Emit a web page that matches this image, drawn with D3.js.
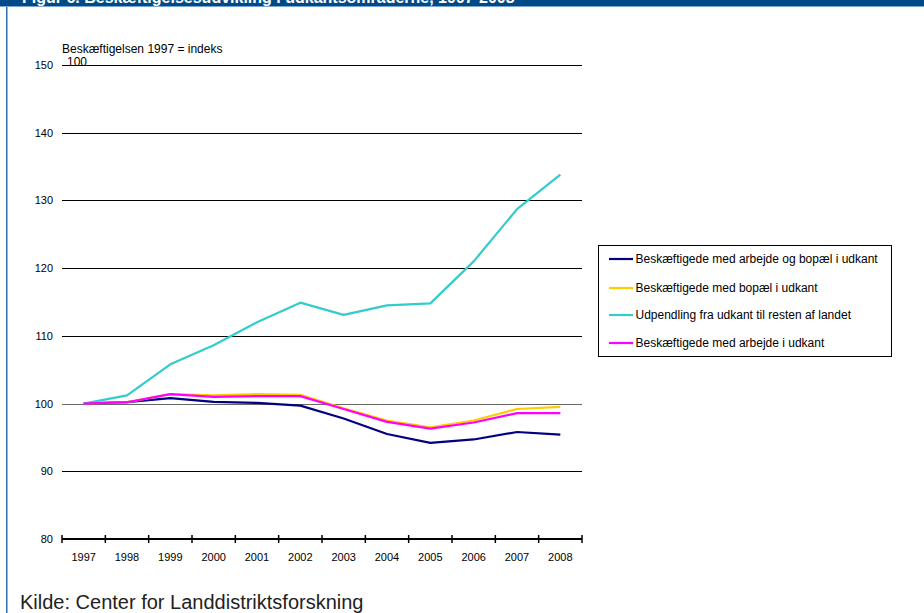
<!DOCTYPE html>
<html><head><meta charset="utf-8">
<script src="https://cdn.jsdelivr.net/npm/d3@7"></script>
<style>body{margin:0;background:#fff;}svg{display:block;font-family:Arial,"Liberation Sans",sans-serif;}</style>
</head><body><svg id="c" width="924" height="613"></svg>
<script>
const years = ["1997","1998","1999","2000","2001","2002","2003","2004","2005","2006","2007","2008"];
const seriesNames = ["Beskæftigede med arbejde og bopæl i udkant","Beskæftigede med bopæl i udkant","Udpendling fra udkant til resten af landet","Beskæftigede med arbejde i udkant"];
const arbejdeOgBopael = [100,100.2,100.8,100.25,100.1,99.7,97.8,95.5,94.2,94.7,95.8,95.4];
const bopael = [100,100.2,101.4,101.2,101.4,101.3,99.3,97.5,96.5,97.5,99.2,99.5];
const udpendling = [100,101.2,105.8,108.6,112.0,114.9,113.1,114.5,114.8,121.0,128.7,133.8];
const arbejde = [100,100.2,101.4,101.0,101.1,101.1,99.2,97.3,96.3,97.2,98.6,98.6];
const yTicks = [80,90,100,110,120,130,140,150];
const colors = ["#000080","#FFCC00","#33CCCC","#FF00FF"];

const svg = d3.select("#c");
// banner
svg.append("rect").attr("x",0).attr("y",0).attr("width",924).attr("height",6).attr("fill","#004b87");
svg.append("rect").attr("x",0).attr("y",6).attr("width",924).attr("height",1).attr("fill","#7aa6cf");
svg.append("text").attr("x",22).attr("y",3).attr("fill","#fff").attr("font-weight","bold").attr("font-size",16)
  .text("Figur 6. Beskæftigelsesudvikling i udkantsområderne, 1997-2008");
svg.append("rect").attr("x",6).attr("y",7).attr("width",1.5).attr("height",606).attr("fill","#2e6fb0");

const x = d3.scaleBand().domain(years).range([62,582]);
const y = d3.scaleLinear().domain([80,150]).range([539,65]);

// gridlines
svg.append("g").selectAll("line").data(yTicks.filter(d=>d>80)).join("line")
  .attr("x1",62).attr("x2",582).attr("y1",d=>Math.round(y(d))+0.5).attr("y2",d=>Math.round(y(d))+0.5)
  .attr("stroke",d=>d===100?"#666":"#000").attr("stroke-width",1);

// y tick labels
svg.append("g").selectAll("text").data(yTicks).join("text")
  .attr("x",53).attr("y",d=>y(d)+4).attr("text-anchor","end").attr("font-size",11).attr("fill","#000").text(d=>d);

// x axis
svg.append("line").attr("x1",62).attr("x2",582).attr("y1",539).attr("y2",539).attr("stroke","#000").attr("stroke-width",2);
const bounds = years.map(d=>x(d)).concat([x.range()[1]]);
svg.append("g").selectAll("line").data(bounds).join("line")
  .attr("x1",d=>d).attr("x2",d=>d).attr("y1",535).attr("y2",543).attr("stroke","#000").attr("stroke-width",1.5);
svg.append("g").selectAll("text").data(years).join("text")
  .attr("x",d=>x(d)+x.bandwidth()/2).attr("y",561).attr("text-anchor","middle").attr("font-size",11).attr("fill","#000").text(d=>d);

// axis title
svg.append("text").attr("x",62).attr("y",53).attr("font-size",12).text("Beskæftigelsen 1997 = indeks");
svg.append("text").attr("x",67).attr("y",66).attr("font-size",12).text("100");

// lines
const data = [arbejdeOgBopael,bopael,udpendling,arbejde];
const line = d3.line().x((d,i)=>x(years[i])+x.bandwidth()/2).y(d=>y(d));
data.forEach((s,k)=>{
  svg.append("path").datum(s).attr("d",line).attr("fill","none").attr("stroke",colors[k]).attr("stroke-width",2.2).attr("stroke-linejoin","round");
});

// legend
const lg = svg.append("g");
lg.append("rect").attr("x",598.5).attr("y",245.5).attr("width",293).attr("height",111).attr("fill","#fff").attr("stroke","#000").attr("stroke-width",1);
const ly = [259,288,315,343];
seriesNames.forEach((n,k)=>{
  lg.append("line").attr("x1",609).attr("x2",633).attr("y1",ly[k]).attr("y2",ly[k]).attr("stroke",colors[k]).attr("stroke-width",2.2);
  lg.append("text").attr("x",635.5).attr("y",ly[k]+4).attr("font-size",12).text(n);
});

// source
svg.append("text").attr("x",20).attr("y",609).attr("font-size",20).attr("fill","#222").text("Kilde: Center for Landdistriktsforskning");
</script></body></html>
